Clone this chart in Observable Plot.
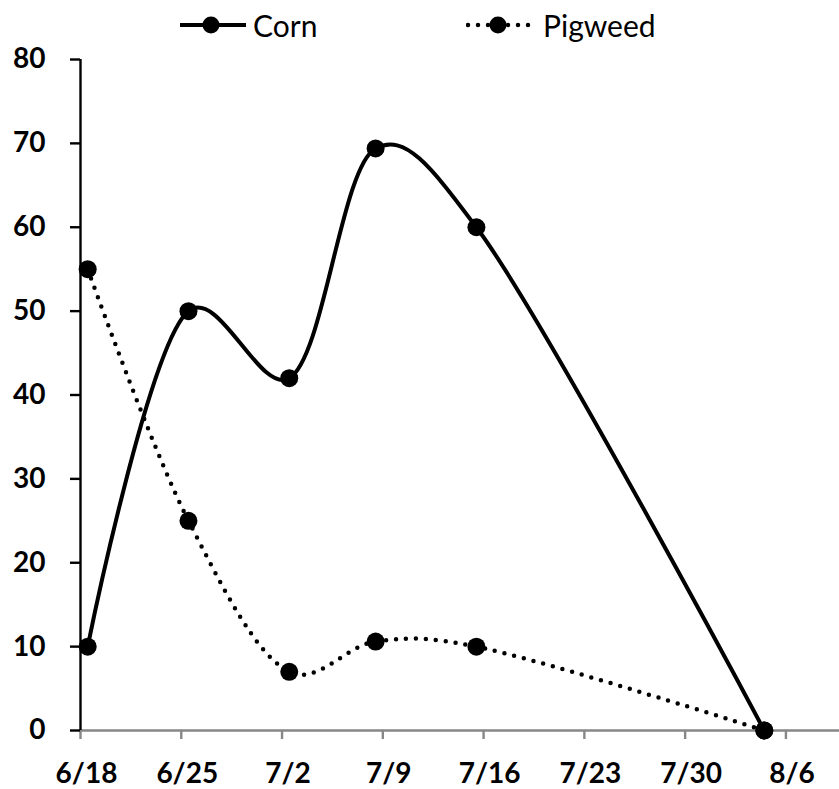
<!DOCTYPE html>
<html>
<head>
<meta charset="utf-8">
<script src="https://cdn.jsdelivr.net/npm/d3@7"></script>
<script src="https://cdn.jsdelivr.net/npm/@observablehq/plot@0.6"></script>
<style>
  html, body { margin: 0; padding: 0; background: #fff; overflow: hidden; }
  #wrap { position: relative; width: 839px; height: 789px; font-family: Lato, "Open Sans", sans-serif; }
  #chart { position: absolute; left: 0; top: 0; }
  .item { position: absolute; top: 0; height: 50px; display: flex; align-items: center; font-size: 30px; color: #000; }
  .item svg { display: block; margin-right: 7px; }
</style>
</head>
<body>
<div id="wrap">
  <div id="chart"></div>
  <div class="item" style="left:180px">
    <svg width="66" height="50"><line x1="0" x2="66" y1="25" y2="25" stroke="#000" stroke-width="4"/><circle cx="31" cy="25" r="8.5" fill="#000"/></svg>
    <span>Corn</span>
  </div>
  <div class="item" style="left:466px">
    <svg width="70" height="50"><line x1="2" x2="70" y1="25" y2="25" stroke="#000" stroke-width="4.5" stroke-linecap="round" stroke-dasharray="0 10"/><circle cx="32" cy="25" r="8.5" fill="#000"/></svg>
    <span>Pigweed</span>
  </div>
</div>
<script>
// Sampling dates (month/day) and the two measured series
const year = 2012;
const sampleDates = ["6/18", "6/25", "7/2", "7/8", "7/15", "8/4"];
const corn = [10, 50, 42, 69.4, 60, 0];
const pigweed = [55, 25, 7, 10.6, 10, 0];

// Axis ticks
const xTickLabels = ["6/18", "6/25", "7/2", "7/9", "7/16", "7/23", "7/30", "8/6"];
const yTicks = [0, 10, 20, 30, 40, 50, 60, 70, 80];
const xStart = "6/18";
const xEnd = "8/10";

const DAY = 864e5;
const parseMD = (s) => { const [m, d] = s.split("/").map(Number); return new Date(Date.UTC(year, m - 1, d)); };
// each day occupies a slot on the date axis; points sit in the middle of it
const midDay = (s) => new Date(+parseMD(s) + DAY / 2);
const fmtMD = (d) => `${d.getUTCMonth() + 1}/${d.getUTCDate()}`;

const rows = [
  ...sampleDates.map((d, i) => ({series: "Corn", date: midDay(d), value: corn[i]})),
  ...sampleDates.map((d, i) => ({series: "Pigweed", date: midDay(d), value: pigweed[i]}))
];
const cornRows = rows.filter(r => r.series === "Corn");
const pigRows = rows.filter(r => r.series === "Pigweed");
const xTicks = xTickLabels.map(parseMD);
const x0 = parseMD(xStart);

// smoothed lines: Catmull–Rom with a light chord-length weighting
const smooth = {curve: "catmull-rom", tension: 0.25};

const chart = Plot.plot({
  width: 839,
  height: 789,
  marginLeft: 80,
  marginRight: -4,
  marginTop: 59,
  marginBottom: 59,
  style: {fontFamily: "Lato, 'Open Sans', sans-serif", background: "white", overflow: "visible"},
  x: {type: "utc", domain: [x0, parseMD(xEnd)]},
  y: {domain: [0, 80]},
  marks: [
    // horizontal (date) axis: grey baseline with downward ticks
    Plot.ruleY([0], {stroke: "#878787", strokeWidth: 2.6}),
    Plot.axisX({ticks: xTicks, tickSize: 9, tickFormat: () => "", stroke: "#878787", strokeWidth: 2.4, strokeOpacity: 1, label: null}),
    Plot.axisX({ticks: xTicks, tickSize: 0, tickPadding: 33, tickFormat: fmtMD, dx: 6, fill: "#000", fontSize: 28, fontWeight: "bold", label: null}),
    // value axis: black line with outside ticks
    Plot.ruleX([x0], {y1: 0, y2: 80, stroke: "#000", strokeWidth: 2.4}),
    Plot.axisY({ticks: yTicks, tickSize: 10, tickPadding: 25, stroke: "#000", strokeWidth: 2.4, strokeOpacity: 1, fill: "#000", fontSize: 28, fontWeight: "bold", label: null}),
    // series
    Plot.line(pigRows, {x: "date", y: "value", ...smooth, stroke: "#000", strokeWidth: 4.5, strokeDasharray: "0 10", strokeLinecap: "round"}),
    Plot.line(cornRows, {x: "date", y: "value", ...smooth, stroke: "#000", strokeWidth: 4}),
    Plot.dot(rows, {x: "date", y: "value", r: 9, fill: "#000", stroke: "none"})
  ]
});
document.getElementById("chart").appendChild(chart);
</script>
</body>
</html>
